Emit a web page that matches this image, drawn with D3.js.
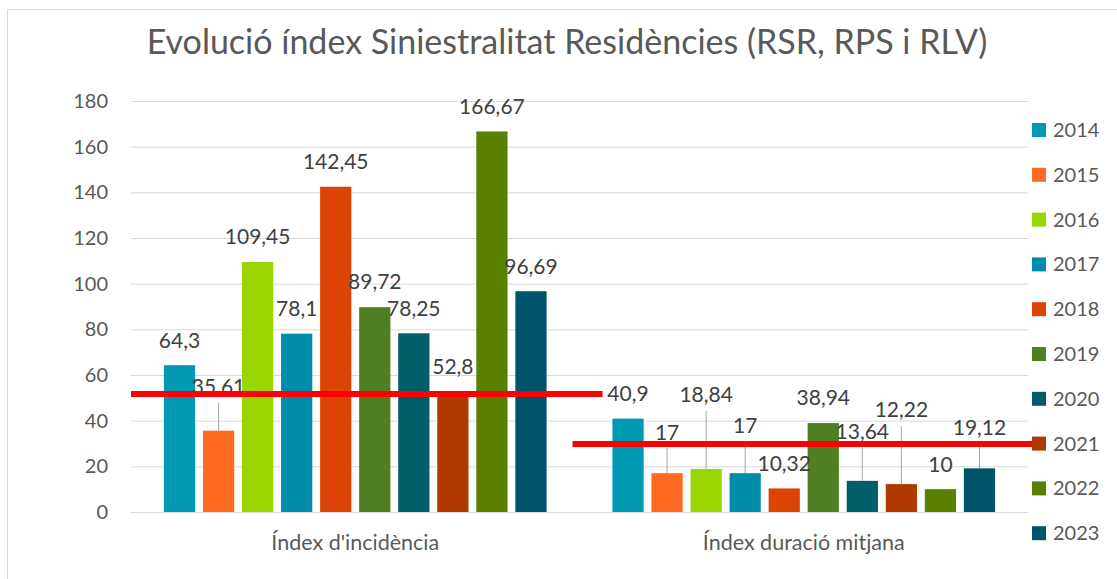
<!DOCTYPE html>
<html>
<head>
<meta charset="utf-8">
<script src="https://cdn.jsdelivr.net/npm/d3@7"></script>
<style>
  body { margin: 0; background: #fff; }
  text { font-family: Lato, "Open Sans", sans-serif; }
</style>
</head>
<body>
<svg id="chart"></svg>
<script>
// dades llegides del gràfic
const categories = ["Índex d'incidència", "Índex duració mitjana"];
const years = ["2014", "2015", "2016", "2017", "2018", "2019", "2020", "2021", "2022", "2023"];
const incidencia = [64.3, 35.61, 109.45, 78.1, 142.45, 89.72, 78.25, 52.8, 166.67, 96.69];
const duracio = [40.9, 17, 18.84, 17, 10.32, 38.94, 13.64, 12.22, 10, 19.12];
const yTicks = [0, 20, 40, 60, 80, 100, 120, 140, 160, 180];
const refLines = [51.7, 29.8];   // línies vermelles

const colors = ["#0099b4", "#ff6a22", "#99d600", "#008dab", "#dc4405", "#507f23",
                "#005e6b", "#ae3a02", "#5a8002", "#005469"];

// etiquetes desplaçades a mà a l'original (px cap amunt)
const labelLift = [
    [0, 19, 0, 0, 0, 0, 0, 0, 0, 0],
    [0, 16, 49, 23, 0, 0, 24, 49, 0, 16]
];

const W = 1117, H = 579;
const margin = { top: 101, right: 89, bottom: 67, left: 131 };
const width = W - margin.left - margin.right;
const height = H - margin.top - margin.bottom;

const svg = d3.select("#chart").attr("width", W).attr("height", H);

// marc del gràfic
svg.append("rect")
    .attr("x", 7.5).attr("y", 9.5)
    .attr("width", W + 10).attr("height", H + 10)
    .attr("fill", "#fff").attr("stroke", "#d9d9d9");

svg.append("text")
    .attr("x", 567).attr("y", 42).attr("dy", "0.35em")
    .attr("text-anchor", "middle")
    .attr("font-size", 34).attr("fill", "#595959")
    .text("Evolució índex Siniestralitat Residències (RSR, RPS i RLV)");

const g = svg.append("g").attr("transform", "translate(" + margin.left + "," + margin.top + ")");

let x0 = d3.scaleBand().domain(categories).range([0, width]);
let x1 = d3.scaleBand().domain(years).range([29, x0.bandwidth() - 29]).paddingInner(0.2).paddingOuter(0.1);
let y = d3.scaleLinear().domain([0, 180]).range([height, 0]);

// graella
g.append("g")
    .attr("class", "axis")
    .call(d3.axisLeft(y).tickValues(yTicks).tickSize(-width).tickPadding(23))
    .call(a => a.select(".domain").remove())
    .call(a => a.selectAll("line").attr("stroke", "#d9d9d9"))
    .call(a => a.selectAll("text").attr("fill", "#595959").attr("font-size", 20)
        .style("font-family", "Lato, sans-serif"));

const series = [incidencia, duracio];
const rows = [];
series.forEach((vals, ci) => {
    vals.forEach((v, yi) => {
        rows.push({ cat: categories[ci], year: years[yi], value: v, yi: yi, lift: labelLift[ci][yi] });
    });
});

const bx = d => x0(d.cat) + x1(d.year);

g.append("g")
    .selectAll("rect")
    .data(rows)
    .enter().append("rect")
    .attr("x", bx)
    .attr("y", d => y(d.value))
    .attr("width", x1.bandwidth())
    .attr("height", d => y(0) - y(d.value))
    .attr("fill", d => colors[d.yi]);

// línies guia de les etiquetes desplaçades
g.append("g")
    .selectAll("line")
    .data(rows.filter(d => d.lift > 10))
    .enter().append("line")
    .attr("x1", d => bx(d) + x1.bandwidth() / 2)
    .attr("x2", d => bx(d) + x1.bandwidth() / 2)
    .attr("y1", d => y(d.value) - 25 - d.lift + 16)
    .attr("y2", d => y(d.value))
    .attr("stroke", "#a6a6a6")
    .attr("stroke-width", 1);

g.append("g")
    .selectAll("text")
    .data(rows)
    .enter().append("text")
    .attr("x", d => bx(d) + x1.bandwidth() / 2)
    .attr("y", d => y(d.value) - 25 - d.lift)
    .attr("dy", "0.35em")
    .attr("text-anchor", "middle")
    .attr("font-size", 21)
    .attr("fill", "#404040")
    .text(d => String(d.value).replace(".", ","));

// etiquetes de categoria
g.append("g")
    .selectAll("text")
    .data(categories)
    .enter().append("text")
    .attr("x", d => x0(d) + x0.bandwidth() / 2)
    .attr("y", height + 30)
    .attr("dy", "0.35em")
    .attr("text-anchor", "middle")
    .attr("font-size", 21.5)
    .attr("fill", "#595959")
    .text(d => d);

// llegenda
const legend = svg.append("g")
    .selectAll("g")
    .data(years)
    .enter().append("g")
    .attr("transform", (d, i) => "translate(1032," + (130 + i * 44.8) + ")");

legend.append("rect")
    .attr("x", 0).attr("y", -7)
    .attr("width", 14).attr("height", 14)
    .attr("fill", (d, i) => colors[i]);

legend.append("text")
    .attr("x", 21).attr("dy", "0.35em")
    .attr("font-size", 20)
    .attr("fill", "#595959")
    .text(d => d);

// línies vermelles de referència
const redExt = [
    [x0(categories[0]), x0(categories[0]) + x0.bandwidth() + 23],
    [x0(categories[1]) - 7, width + 15]
];
g.append("g")
    .selectAll("line")
    .data(refLines)
    .enter().append("line")
    .attr("x1", (d, i) => redExt[i][0])
    .attr("x2", (d, i) => redExt[i][1])
    .attr("y1", d => y(d))
    .attr("y2", d => y(d))
    .attr("stroke", "#ff0000")
    .attr("stroke-width", 6);
</script>
</body>
</html>
